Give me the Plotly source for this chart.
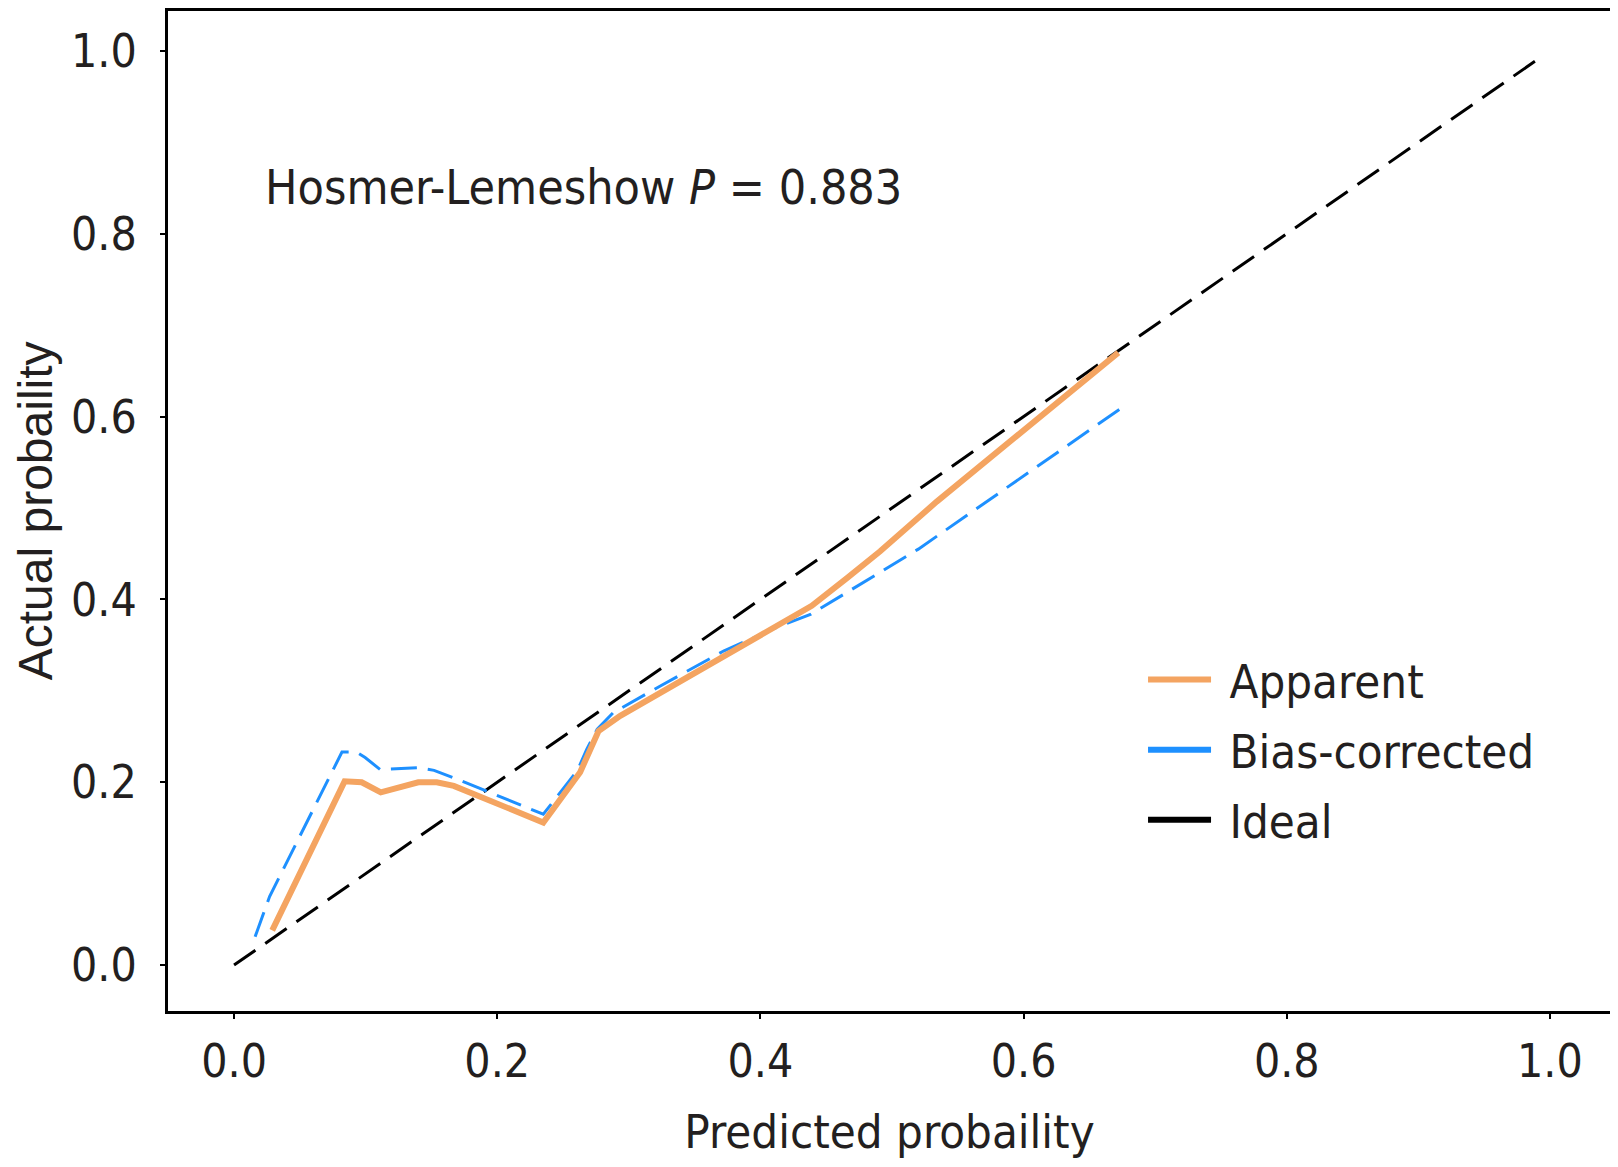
import plotly.graph_objects as go

# ---- data ----
apparent_x = [0.029, 0.084, 0.097, 0.1115, 0.140, 0.154, 0.167, 0.182, 0.205, 0.235,
              0.263, 0.271, 0.277, 0.2935, 0.349, 0.385, 0.415, 0.439, 0.466, 0.491,
              0.534, 0.583, 0.625, 0.672]
apparent_y = [0.038, 0.201, 0.200, 0.189, 0.200, 0.200, 0.196, 0.187, 0.173, 0.156,
              0.211, 0.238, 0.256, 0.2726, 0.318, 0.347, 0.373, 0.393, 0.4235, 0.4526,
              0.507, 0.565, 0.615, 0.670]

bias_x = [0.016, 0.027, 0.082, 0.093, 0.0996, 0.111, 0.139, 0.152, 0.172, 0.235,
          0.261, 0.268, 0.276, 0.288, 0.326, 0.372, 0.415, 0.438, 0.520, 0.572,
          0.620, 0.673]
bias_y = [0.031, 0.075, 0.233, 0.233, 0.227, 0.214, 0.216, 0.213, 0.202, 0.165,
          0.213, 0.236, 0.258, 0.276, 0.307, 0.3435, 0.371, 0.3835, 0.455, 0.507,
          0.555, 0.608]

ideal_x = [0.0, 0.993]
ideal_y = [0.0, 0.993]

tick_vals = [0.0, 0.2, 0.4, 0.6, 0.8, 1.0]
tick_text = ["0.0", "0.2", "0.4", "0.6", "0.8", "1.0"]

series_names = ["Apparent", "Bias-corrected", "Ideal"]
series_colors = ["#F4A461", "#1E90FF", "#000000"]

annotation_text = "Hosmer-Lemeshow <i>P</i> = 0.883"
x_title = "Predicted probaility"
y_title = "Actual probaility"

TXT = "#231F20"
FONT = "DejaVu Sans Condensed, DejaVu Sans, sans-serif"

fig = go.Figure()

fig.add_trace(go.Scatter(x=ideal_x, y=ideal_y, mode="lines", showlegend=False,
                         line=dict(color=series_colors[2], width=3, dash="26px,12px")))
fig.add_trace(go.Scatter(x=bias_x, y=bias_y, mode="lines", showlegend=False,
                         line=dict(color=series_colors[1], width=3, dash="26px,11px")))
fig.add_trace(go.Scatter(x=apparent_x, y=apparent_y, mode="lines", showlegend=False,
                         line=dict(color=series_colors[0], width=6)))

# legend entries drawn as solid thick lines, as in the reference
for i, (nm, col) in enumerate(zip(series_names, series_colors)):
    fig.add_trace(go.Scatter(x=[None], y=[None], mode="lines", name="\u00a0" + nm,
                             legendgroup=f"g{i}", legendrank=i,
                             line=dict(color=col, width=6)))

axis_common = dict(
    tickvals=tick_vals, ticktext=tick_text,
    showgrid=False, zeroline=False,
    showline=True, linecolor="black", linewidth=3, mirror=True,
    ticks="outside", ticklen=5, tickwidth=2, tickcolor="black",
    tickfont=dict(family=FONT, size=46, color=TXT),
)

fig.update_layout(
    width=1606, height=1151,
    margin=dict(l=160, r=2, t=0, b=148),
    paper_bgcolor="white", plot_bgcolor="white",
    xaxis=dict(range=[-0.0502, 1.0464], ticklabelstandoff=3,
               title=dict(text=x_title, standoff=28,
                          font=dict(family=FONT, size=47, color=TXT)),
               **axis_common),
    yaxis=dict(range=[-0.0502, 1.0436], ticklabelstandoff=14, **axis_common),
    legend=dict(x=0.6757, y=0.261, xanchor="left", yanchor="middle",
                bgcolor="rgba(0,0,0,0)", tracegroupgap=6, itemwidth=63,
                font=dict(family=FONT, size=47, color=TXT)),
    annotations=[
        dict(x=0.022, y=0.8506, xref="x", yref="y", text=annotation_text,
             showarrow=False, xanchor="left", yanchor="middle",
             font=dict(family=FONT, size=48, color=TXT)),
        dict(x=-0.092, y=0.5, xref="paper", yref="paper", text=y_title,
             showarrow=False, xanchor="center", yanchor="middle", textangle=-90,
             font=dict(family="Liberation Sans Narrow, Liberation Sans, sans-serif",
                       size=48, color=TXT)),
    ],
)

fig.write_html("out.html")
